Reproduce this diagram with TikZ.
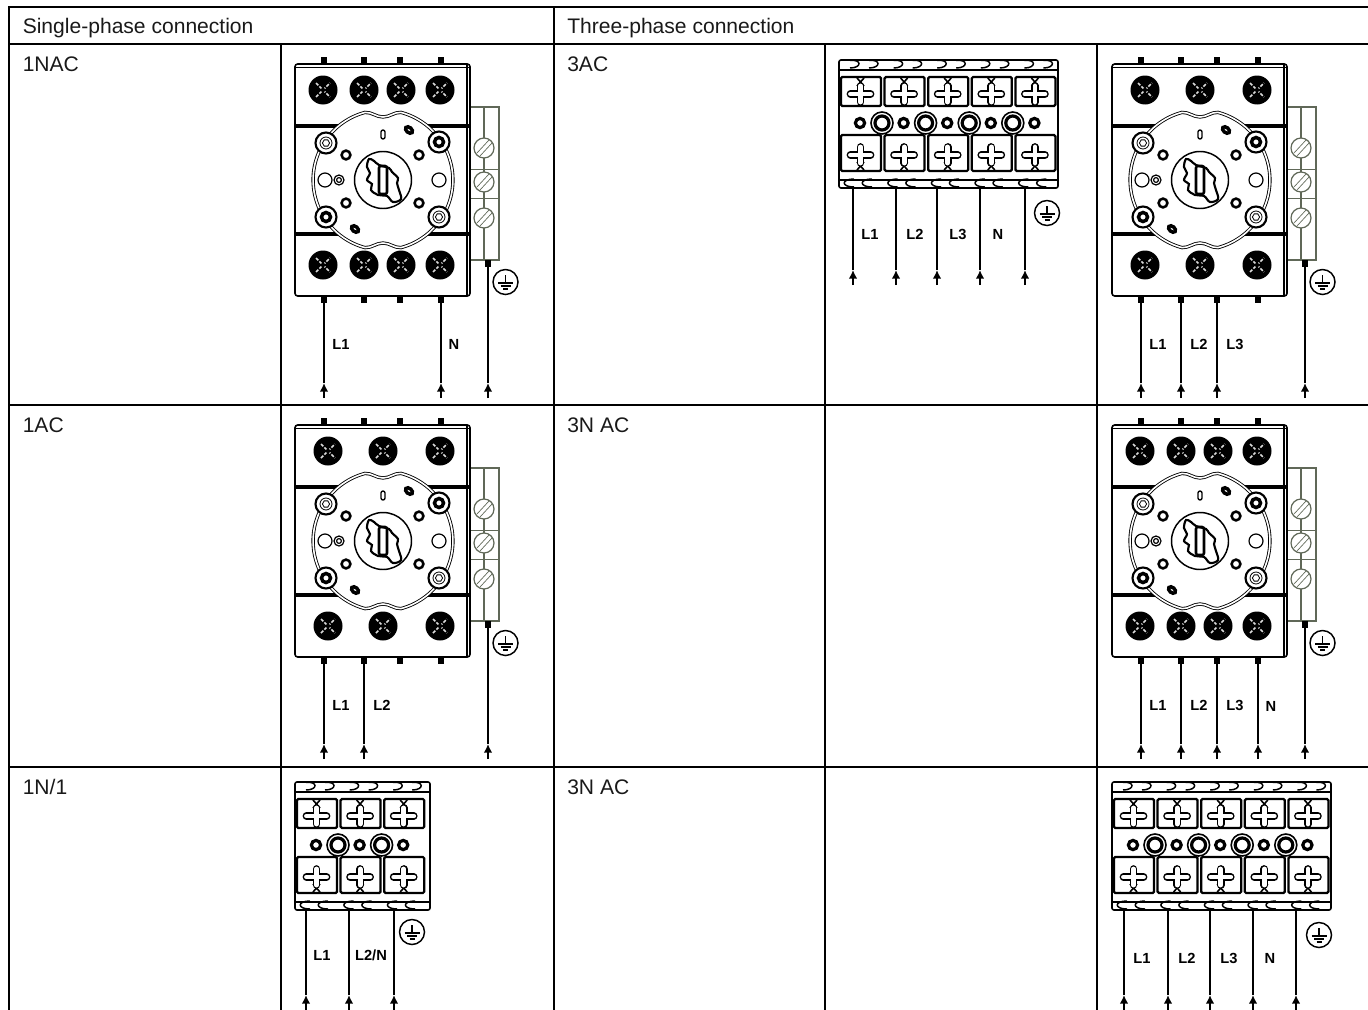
\documentclass[tikz,border=0pt]{standalone}
\usepackage{fontspec}
\setmainfont{Liberation Sans}
\usepackage{tikz}
\usetikzlibrary{arrows.meta, positioning}
\definecolor{railgreen}{RGB}{96,104,88}
\tikzset{
  gridline/.style={line width=1.5pt},
  headtext/.style={anchor=base west, inner sep=0pt, text=black!90, font=\fontsize{15.8}{18}\selectfont},
  wirelabel/.style={inner sep=0pt, font=\bfseries\fontsize{11}{13}\selectfont},
  wireline/.style={line width=1.5pt},
  wiretip/.style={line width=1.5pt, -{Latex[length=6.5pt,width=6.5pt]}},
  bodyline/.style={line width=1.2pt},
  bandline/.style={line width=2.6pt},
  railline/.style={line width=1.2pt, draw=railgreen},
  screwline/.style={line width=0.9pt, draw=railgreen},
  ringline/.style={line width=0.65pt, double=white, double distance=1.2pt},
}
% wire with its arrow tip: x, top end, bottom end
\newcommand{\wireup}[3]{
  \draw[wiretip] (#1,#3) -- (#1,#3-15);
  \draw[wireline] (#1,#3-15) -- (#1,#2);
}
% earth sign in a circle
\newcommand{\earthmark}[2]{
  \begin{scope}[shift={(#1,#2)}]
    \draw[line width=1.1pt] (0,0) circle (12.5);
    \draw[line width=1pt] (0,-7) -- (0,1) (-7.5,1) -- (7.5,1) (-5,4) -- (5,4) (-2.5,7) -- (2.5,7);
  \end{scope}
}
% lug of the switch body, with star or ring
\newcommand{\starlug}[2]{
  \draw[line width=1.6pt, fill=white] (#1,#2) circle (10.5);
  \draw[line width=0.6pt] (#1,#2) circle (6);
  \draw[line width=0.6pt] ([shift={(#1,#2)}]0:3.6) -- ([shift={(#1,#2)}]60:3.6) -- ([shift={(#1,#2)}]120:3.6) -- ([shift={(#1,#2)}]180:3.6) -- ([shift={(#1,#2)}]240:3.6) -- ([shift={(#1,#2)}]300:3.6) -- cycle;
}
\newcommand{\ringlug}[2]{
  \draw[line width=1.6pt, fill=white] (#1,#2) circle (10.5);
  \draw[line width=2.6pt] (#1,#2) circle (4.5);
}
% one black terminal screw
\newcommand{\blackscrew}[2]{
  \fill (#1,#2) circle (14.5);
  \draw[white!85!black, line width=1.1pt, dash pattern=on 2.5pt off 1.2pt] (#1-7,#2+7) -- (#1+7,#2-7);
  \draw[white!85!black, line width=1.1pt, dash pattern=on 2.5pt off 1.2pt] (#1-7,#2-7) -- (#1+7,#2+7);
  \fill (#1,#2) circle (2.2);
}
% switch body with earth rail: shift x, shift y, list of screw positions
\newcommand{\switchunit}[3]{
  \begin{scope}[shift={(#1,#2)}]
    % pins
    \foreach \x in {324,364,400,441} {
      \draw[line width=3.8pt] (\x,57) -- (\x,64);
      \draw[line width=3.8pt] (\x,296) -- (\x,303);
    }
    % earth rail
    \draw[railline] (470,107) rectangle (499,260);
    \draw[railline] (484,107) -- (484,260);
    \draw[line width=0.4pt, draw=railgreen] (470,169) -- (499,169) (470,198) -- (499,198);
    \foreach \y in {148,182,218} {
      \draw[screwline, fill=white] (484,\y) circle (10);
      \draw[line width=0.5pt, draw=railgreen] (477,\y+5) -- (489,\y-8) (480,\y+8) -- (492,\y-5);
    }
    \draw[line width=3.8pt] (488,260) -- (488,267);
    % body
    \draw[bodyline, fill=white, rounded corners=2pt] (295,64) rectangle (470,296);
    \draw[line width=0.7pt] (296,67) -- (469,67);
    \draw[line width=0.9pt] (467,65) -- (467,295);
    \draw[bandline] (295,126) -- (470,126);
    \draw[bandline] (295,234) -- (470,234);
    \foreach \x in {#3} {
      \blackscrew{\x}{90}
      \blackscrew{\x}{265}
    }
    % ring with its two notches
    \draw[ringline, fill=white] (365,112.4) arc[start angle=255, end angle=105, radius=70]
      .. controls (372,248) and (376,243) .. (383,243)
      .. controls (390,243) and (394,248) .. (401,247.6)
      arc[start angle=75, end angle=-75, radius=70]
      .. controls (394,112) and (390,117) .. (383,117)
      .. controls (376,117) and (372,112) .. (365,112.4) -- cycle;
    \starlug{326}{143}
    \ringlug{439}{142}
    \ringlug{326}{217}
    \starlug{439}{217}
    % small holes
    \foreach \x/\y in {346/155,419/155,346/203,419/203} {
      \draw[line width=1.9pt] (\x,\y) circle (4.4);
    }
    \draw[line width=0.9pt] (325,180) circle (7);
    \draw[line width=0.9pt] (439,180) circle (7);
    \draw[line width=0.9pt] (339,180) circle (5);
    \draw[line width=0.9pt] (339,180) circle (2.4);
    % indicator and the two ovals
    \draw[line width=1pt, rounded corners=1.5pt] (381,130) rectangle (385,139);
    \draw[line width=2.6pt, rotate around={-40:(409,130)}] (409,130) ellipse (4 and 2.6);
    \draw[line width=2.6pt, rotate around={-40:(355,229)}] (355,229) ellipse (4 and 2.6);
    % knob
    \draw[line width=1.1pt] (383,180) circle (28.5);
    \draw[line width=1.6pt] plot[smooth cycle, tension=0.6] coordinates {
      (369,159) (374,161) (379,165) (389,168) (392,172) (398,178) (397,183) (399,190) (401,199) (393,202)
      (387,196) (378,195) (371,190) (372,184) (367,180) (370,173) (367,167)};
    \draw[line width=1.9pt, rounded corners=1.5pt] (379,166) rectangle (387,194);
  \end{scope}
}
% terminal block: shift x, shift y, number of cells, right edge
\newcommand{\blockunit}[4]{
  \begin{scope}[shift={(#1,#2)}]
    \draw[bodyline, fill=white, rounded corners=1.5pt] (839,60) rectangle (#4,188);
    \draw[line width=1.2pt] (839,70) -- (#4,70);
    \draw[line width=1.2pt] (839,180) -- (#4,180);
    \foreach \i in {1,...,#3} {
      \pgfmathsetmacro{\cellx}{861+43.6*(\i-1)}
      % hooks
      \foreach \h in {-11,8} {
        \draw[line width=1.1pt] (\cellx+\h,60.5) .. controls (\cellx+\h+12,59) and (\cellx+\h+12,68) .. (\cellx+\h,68);
      }
      \foreach \h in {-7,11} {
        \draw[line width=1.1pt] (\cellx+\h,179) .. controls (\cellx+\h-13,179) and (\cellx+\h-13,187) .. (\cellx+\h,187);
      }
      % top and bottom cell
      \draw[line width=1.7pt, rounded corners=1pt] (\cellx-20,77) rectangle (\cellx+20,106);
      \draw[line width=1.7pt, rounded corners=1pt] (\cellx-20,135) rectangle (\cellx+20,171);
      \draw[line width=1.2pt] (\cellx-4,78) -- (\cellx+3,86) (\cellx+3,78) -- (\cellx-4,86);
      \draw[line width=1.2pt] (\cellx-4,170) -- (\cellx+3,162) (\cellx+3,170) -- (\cellx-4,162);
      \foreach \y in {94,155} {
        \draw[line width=5.8pt, line cap=round] (\cellx-10.5,\y) -- (\cellx+9.5,\y);
        \draw[line width=5.8pt, line cap=round] (\cellx-0.5,\y-8) -- (\cellx-0.5,\y+8);
        \draw[white, line width=3.6pt, line cap=round] (\cellx-10.5,\y) -- (\cellx+9.5,\y);
        \draw[white, line width=3.6pt, line cap=round] (\cellx-0.5,\y-8) -- (\cellx-0.5,\y+8);
      }
      \draw[line width=2.4pt] (\cellx-1,123) circle (4.6);
    }
    \pgfmathtruncatemacro{\ringcount}{#3-1}
    \foreach \i in {1,...,\ringcount} {
      \pgfmathsetmacro{\ringx}{882+43.6*(\i-1)}
      \draw[line width=1.2pt, fill=white] (\ringx,123) circle (11);
      \draw[line width=2.4pt] (\ringx,123) circle (7);
    }
  \end{scope}
}
\begin{document}
\begin{tikzpicture}[x=0.75pt,y=-0.75pt]
  \useasboundingbox (0,0) rectangle (1368,1010);
  % table lines
  \foreach \y in {7,44,405,767} {
    \draw[gridline] (8,\y) -- (1368,\y);
  }
  \foreach \x in {8.5,553.5} {
    \draw[gridline] (\x,6) -- (\x,1010);
  }
  \foreach \x in {281,825,1097} {
    \draw[gridline] (\x,44) -- (\x,1010);
  }
  % texts of the cells
  \node[headtext] (headsingle) at (22.5,33) {Single-phase connection};
  \node[headtext] (headthree) at (567,33) {Three-phase connection};
  \node[headtext] (rowonenac) at (22.5,71) {1NAC};
  \node[headtext] (rowoneac) at (22.5,432) {1AC};
  \node[headtext] (rowonen) at (22.5,794) {1N/1};
  \node[headtext] (rowthreeac) at (567,71) {3AC};
  \node[headtext] (rowthreenac) at (567,432) {3N AC};
  \node[headtext] (rowthreenb) at (567,794) {3N AC};

  % 1NAC
  \switchunit{0}{0}{323,364,401,440}
  \foreach \x in {324,441} {\wireup{\x}{303}{398}}
  \wireup{488}{267}{398}
  \earthmark{505.5}{282}
  \node[wirelabel] (nacone) at (341,344) {L1};
  \node[wirelabel] (nacn) at (454,344) {N};

  % 1AC
  \switchunit{0}{361}{328,383,440}
  \foreach \x in {324,364} {\wireup{\x}{664}{759}}
  \wireup{488}{628}{759}
  \earthmark{505.5}{643}
  \node[wirelabel] (acone) at (341,705) {L1};
  \node[wirelabel] (actwo) at (382,705) {L2};

  % 3AC block and switch
  \blockunit{0}{0}{5}{1058}
  \foreach \x in {853,896,937,980,1025} {\wireup{\x}{188}{285}}
  \earthmark{1047}{213}
  \node[wirelabel] (blockone) at (870,234) {L1};
  \node[wirelabel] (blocktwo) at (915,234) {L2};
  \node[wirelabel] (blockthree) at (958,234) {L3};
  \node[wirelabel] (blockn) at (998,234) {N};
  \switchunit{817}{0}{328,383,440}
  \foreach \x in {1141,1181,1217} {\wireup{\x}{303}{398}}
  \wireup{1305}{267}{398}
  \earthmark{1322.5}{282}
  \node[wirelabel] (threeone) at (1158,344) {L1};
  \node[wirelabel] (threetwo) at (1199,344) {L2};
  \node[wirelabel] (threethree) at (1235,344) {L3};

  % 3N AC switch
  \switchunit{817}{361}{323,364,401,440}
  \foreach \x in {1141,1181,1217,1258} {\wireup{\x}{664}{759}}
  \wireup{1305}{628}{759}
  \earthmark{1322.5}{643}
  \node[wirelabel] (fourone) at (1158,705) {L1};
  \node[wirelabel] (fourtwo) at (1199,705) {L2};
  \node[wirelabel] (fourthree) at (1235,705) {L3};
  \node[wirelabel] (fourn) at (1271,706) {N};

  % 1N/1 block
  \blockunit{-544}{722}{3}{974}
  \foreach \x in {306,349,394} {\wireup{\x}{910}{1010}}
  \earthmark{412}{932}
  \node[wirelabel] (smallone) at (322,955) {L1};
  \node[wirelabel] (smalltwo) at (371,955) {L2/N};

  % 3N AC block
  \blockunit{273}{722}{5}{1058}
  \foreach \x in {1124,1168,1210,1253,1296} {\wireup{\x}{910}{1010}}
  \earthmark{1319}{935}
  \node[wirelabel] (lastone) at (1142,958) {L1};
  \node[wirelabel] (lasttwo) at (1187,958) {L2};
  \node[wirelabel] (lastthree) at (1229,958) {L3};
  \node[wirelabel] (lastn) at (1270,958) {N};
\end{tikzpicture}
\end{document}
